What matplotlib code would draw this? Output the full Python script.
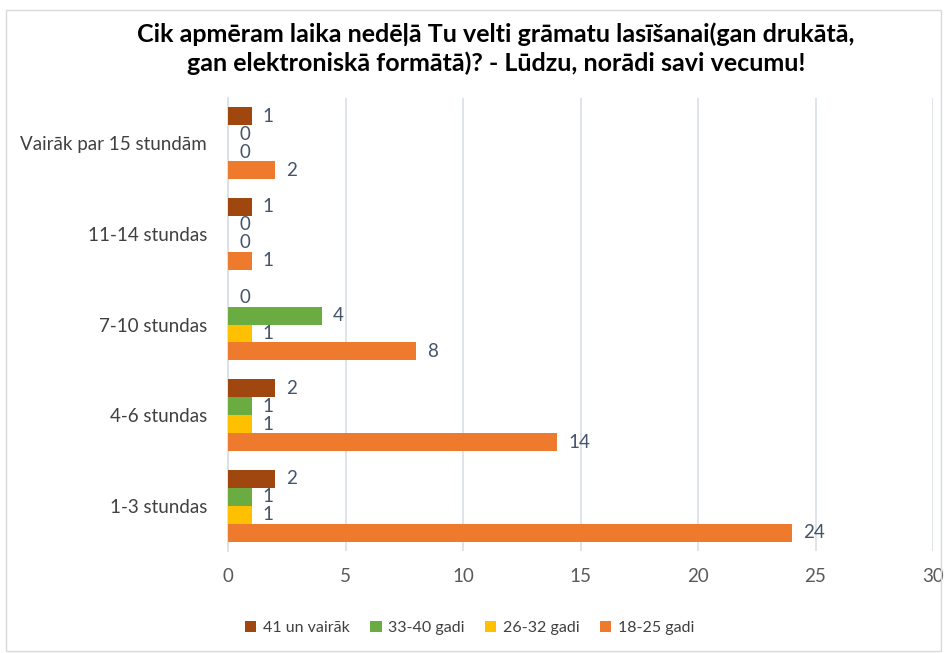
import matplotlib
matplotlib.use("Agg")
import matplotlib.pyplot as plt
import numpy as np
from matplotlib.patches import Rectangle

plt.rcParams['font.family'] = ['Lato', 'DejaVu Sans']

categories = ["1-3 stundas", "4-6 stundas", "7-10 stundas", "11-14 stundas", "Vairāk par 15 stundām"]
series_names = ["41 un vairāk", "33-40 gadi", "26-32 gadi", "18-25 gadi"]
v_41 = [2, 2, 0, 1, 1]
v_33_40 = [1, 1, 4, 0, 0]
v_26_32 = [1, 1, 1, 0, 0]
v_18_25 = [24, 14, 8, 1, 2]
colors = ["#A0470F", "#6AAB42", "#FFC000", "#EE7A2E"]
title = "Cik apmēram laika nedēļā Tu velti grāmatu lasīšanai(gan drukātā,\ngan elektroniskā formātā)? - Lūdzu, norādi savi vecumu!"

fig = plt.figure(figsize=(9.45, 6.53), dpi=100)
fig.patches.append(Rectangle((0.006, 0.003), 0.99, 0.982, transform=fig.transFigure,
                             fill=False, edgecolor="#D9D9D9", linewidth=1))
ax = fig.add_axes([0.2413, 0.156, 0.746, 0.694])

y = np.arange(len(categories))
h = 0.198
offsets = [1.5 * h, 0.5 * h, -0.5 * h, -1.5 * h]
all_vals = [v_41, v_33_40, v_26_32, v_18_25]
for vals, off, col, name in zip(all_vals, offsets, colors, series_names):
    bars = ax.barh(y + off, vals, height=h, color=col, linewidth=0, label=name, zorder=3)
    for b, v in zip(bars, vals):
        ax.annotate(str(v), (b.get_width(), b.get_y() + b.get_height() / 2),
                    xytext=(8, 0), textcoords="offset points", va="center", ha="left",
                    fontsize=13.5, color="#44546A")

ax.set_xlim(0, 30)
ax.set_ylim(-0.5, 4.5)
ax.set_xticks([0, 5, 10, 15, 20, 25, 30])
ax.set_yticks(y)
ax.set_yticklabels(categories)
ax.tick_params(axis="y", length=0, labelsize=13.5, labelcolor="#404040", pad=15)
ax.tick_params(axis="x", length=0, labelsize=13.5, labelcolor="#595959", pad=12)
ax.grid(axis="x", color="#D9DEE6", linewidth=1.2, zorder=0)
for s in ["top", "right", "bottom"]:
    ax.spines[s].set_visible(False)
ax.spines["left"].set_color("#D9DEE6")
ax.spines["left"].set_linewidth(1.2)

fig.text(0.525, 0.925, title, ha="center", va="center", fontsize=18, fontweight="bold",
         color="#000000", linespacing=1.3)

handles, labels = ax.get_legend_handles_labels()
fig.legend(handles, labels, loc="center", bbox_to_anchor=(0.497, 0.038), ncol=4,
           frameon=False, fontsize=11.5, handlelength=0.7, handleheight=0.7,
           handletextpad=0.4, columnspacing=1.3, labelcolor="#404040")

fig.savefig("out.png", dpi=100)
